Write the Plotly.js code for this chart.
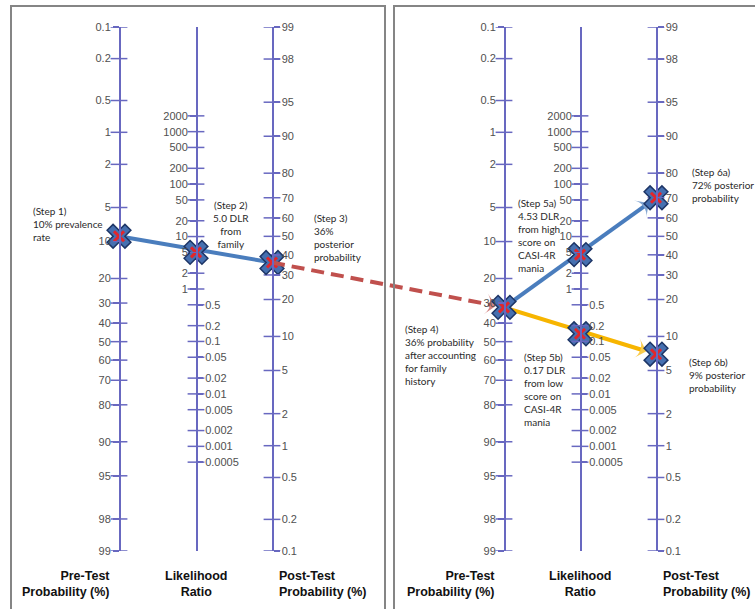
<!DOCTYPE html>
<html><head><meta charset="utf-8">
<script src="https://cdn.plot.ly/plotly-3.0.1.min.js"></script>
<style>html,body{margin:0;padding:0;background:#fff}#chart{width:755px;height:609px}</style>
</head><body><div id="chart"></div>
<script>
// ---------- data ----------
const probTicks = [0.1, 0.2, 0.5, 1, 2, 5, 10, 20, 30, 40, 50, 60, 70, 80, 90, 95, 98, 99];
const probLabels = ['0.1', '0.2', '0.5', '1', '2', '5', '10', '20', '30', '40', '50', '60', '70', '80', '90', '95', '98', '99'];
const lrHighTicks = [2000, 1000, 500, 200, 100, 50, 20, 10, 5, 2, 1];
const lrHighLabels = ['2000', '1000', '500', '200', '100', '50', '20', '10', '5', '2', '1'];
const lrLowTicks = [0.5, 0.2, 0.1, 0.05, 0.02, 0.01, 0.005, 0.002, 0.001, 0.0005];
const lrLowLabels = ['0.5', '0.2', '0.1', '0.05', '0.02', '0.01', '0.005', '0.002', '0.001', '0.0005'];

// [pre-test %, likelihood ratio, post-test %]
const leftPath = [9, 5, 36];
const rightHighPath = [32, 4.53, 70];
const rightLowPath = [32, 0.14, 7];

const stepTexts = [
  '(Step 1)<br>10% prevalence<br>rate',
  '(Step 2)<br>5.0 DLR<br>from<br>family',
  '(Step 3)<br>36%<br>posterior<br>probability',
  '(Step 4)<br>36% probability<br>after accounting<br>for family<br>history',
  '(Step 5a)<br>4.53 DLR<br>from high<br>score on<br>CASI-4R<br>mania',
  '(Step 5b)<br>0.17 DLR<br>from low<br>score on<br>CASI-4R<br>mania',
  '(Step 6a)<br>72% posterior<br>probability',
  '(Step 6b)<br>9% posterior<br>probability'
];
const axisTitles = ['Pre-Test<br>Probability (%)', 'Likelihood<br>Ratio', 'Post-Test<br>Probability (%)'];

// ---------- layout geometry (pixels) ----------
const W = 755, H = 609;
const yTopPx = 27, yBotPx = 551;
const colsLeft = [119, 196, 272];
const colsRight = [504, 580, 656];
const AXC = '#6868c0';
const paperY = py => 1 - py / H;

const odds = p => p / (100 - p);
const lg = Math.log10;
const preRange = [lg(odds(probTicks[probTicks.length - 1])), lg(odds(probTicks[0]))];
const postRange = [preRange[1], preRange[0]];
const span = preRange[0] - preRange[1];
const lrRange = [-span, span];
// map a value from one log axis to the equivalent position on another log axis
function mapAxis(v, fromR, toR) {
  const f = (lg(v) - fromR[0]) / (fromR[1] - fromR[0]);
  return Math.pow(10, toR[0] + f * (toR[1] - toR[0]));
}

const tickFont = {family: 'Liberation Sans, Arial, sans-serif', size: 11, color: '#505050'};
function yax(pos, side, range, vals, text, showline) {
  return {
    type: 'log', range: range, anchor: 'free', position: pos / W, side: side,
    domain: [paperY(yBotPx), paperY(yTopPx)],
    showgrid: false, zeroline: false, showline: showline, linecolor: AXC, linewidth: 1.5,
    tickmode: 'array', tickvals: vals, ticktext: text,
    ticks: 'outside', ticklen: 6, tickwidth: 1.5, tickcolor: AXC,
    tickfont: tickFont, fixedrange: true
  };
}

const layout = {
  width: W, height: H, margin: {l: 0, r: 0, t: 0, b: 0},
  paper_bgcolor: '#fff', plot_bgcolor: 'rgba(0,0,0,0)', showlegend: false,
  xaxis: {range: [0, W], visible: false, fixedrange: true},
  yaxis: yax(colsLeft[0], 'left', preRange, probTicks.map(odds), probLabels, true),
  yaxis2: Object.assign(yax(colsLeft[1], 'left', lrRange, lrHighTicks, lrHighLabels, true), {overlaying: 'y'}),
  yaxis3: Object.assign(yax(colsLeft[1], 'right', lrRange, lrLowTicks, lrLowLabels, false), {overlaying: 'y'}),
  yaxis4: Object.assign(yax(colsLeft[2], 'right', postRange, probTicks.map(odds), probLabels, true), {overlaying: 'y'}),
  yaxis5: Object.assign(yax(colsRight[0], 'left', preRange, probTicks.map(odds), probLabels, true), {overlaying: 'y'}),
  yaxis6: Object.assign(yax(colsRight[1], 'left', lrRange, lrHighTicks, lrHighLabels, true), {overlaying: 'y'}),
  yaxis7: Object.assign(yax(colsRight[1], 'right', lrRange, lrLowTicks, lrLowLabels, false), {overlaying: 'y'}),
  yaxis8: Object.assign(yax(colsRight[2], 'right', postRange, probTicks.map(odds), probLabels, true), {overlaying: 'y'}),
  shapes: [
    {type: 'rect', xref: 'x', yref: 'paper', x0: 11, x1: 385, y0: -0.05, y1: paperY(6), line: {color: '#858585', width: 2}},
    {type: 'rect', xref: 'x', yref: 'paper', x0: 394, x1: 790, y0: -0.05, y1: paperY(6), line: {color: '#858585', width: 2}}
  ],
  annotations: []
};

// axis titles
const titleFont = {family: "'Liberation Sans', Arial, sans-serif", size: 12.5, color: '#111', weight: 'bold'};
[colsLeft, colsRight].forEach(cols => {
  const specs = [[cols[0] - 7, 'right'], [cols[1], 'center'], [cols[2] + 5, 'left']];
  specs.forEach(([x, anc], i) => {
    layout.annotations.push({xref: 'x', yref: 'paper', x: x, y: paperY(583.5), xanchor: anc, yanchor: 'middle',
      align: anc, showarrow: false, text: axisTitles[i], font: titleFont});
  });
});

// step notes
const stepPos = [[31, 224.5, 'left'], [231, 224, 'center'], [312, 237.5, 'left'], [403, 354.5, 'left'],
                 [516, 235.5, 'left'], [522, 389.5, 'left'], [690, 184.5, 'left'], [687, 374.5, 'left']];
const noteFont = {family: "Lato, 'Noto Sans', sans-serif", size: 10, color: '#2a2a2a'};
stepTexts.forEach((t, i) => {
  const [x, y, anc] = stepPos[i];
  layout.annotations.push({xref: 'x', yref: 'paper', x: x, y: paperY(y), xanchor: anc, yanchor: 'middle',
    align: anc, showarrow: false, text: t, font: noteFont});
});

// ---------- traces ----------
const traces = [];
function crossTicks(col, vals, ax) {
  traces.push({type: 'scatter', mode: 'markers', x: vals.map(() => col), y: vals, yaxis: ax, hoverinfo: 'skip',
    marker: {symbol: 'line-ew', size: 12, line: {width: 1.5, color: AXC}}});
}
crossTicks(colsLeft[0], probTicks.map(odds), 'y');
crossTicks(colsLeft[1], lrHighTicks, 'y2');
crossTicks(colsLeft[1], lrLowTicks, 'y3');
crossTicks(colsLeft[2], probTicks.map(odds), 'y4');
crossTicks(colsRight[0], probTicks.map(odds), 'y5');
crossTicks(colsRight[1], lrHighTicks, 'y6');
crossTicks(colsRight[1], lrLowTicks, 'y7');
crossTicks(colsRight[2], probTicks.map(odds), 'y8');

const BLUE = '#4a7dbd', GOLD = '#f7b500', RED = '#c0504d';
function arrowLine(x, y, ax, color, dash, arrow, standoff) {
  const t = {type: 'scatter', x: x, y: y, yaxis: ax, hoverinfo: 'skip', mode: arrow ? 'lines+markers' : 'lines',
    line: {color: color, width: 4, dash: dash || 'solid'}};
  if (arrow) {
    t.marker = {symbol: ['circle', 'arrow-wide'], size: [0, 15], color: color, angleref: 'previous',
      standoff: [0, standoff], line: {width: 0}};
  }
  traces.push(t);
}
// left panel line: pre -> post (plotted on pre axis scale)
arrowLine([colsLeft[0], colsLeft[2]], [odds(leftPath[0]), mapAxis(odds(leftPath[2]), postRange, preRange)], 'y', BLUE, null, false);
// red dashed carry-over: left post -> right pre
arrowLine([colsLeft[2], colsRight[0]], [mapAxis(odds(leftPath[2]), postRange, preRange), odds(rightHighPath[0])], 'y5', RED, '13px,7px', true, 8);
// right: high score
arrowLine([colsRight[0], colsRight[2]], [odds(rightHighPath[0]), mapAxis(odds(rightHighPath[2]), postRange, preRange)], 'y5', BLUE, null, true, 9);
// right: low score
arrowLine([colsRight[0], colsRight[2]], [odds(rightLowPath[0]), mapAxis(odds(rightLowPath[2]), postRange, preRange)], 'y5', GOLD, null, true, 10);

function stepMarker(col, val, ax) {
  traces.push({type: 'scatter', mode: 'markers', x: [col], y: [val], yaxis: ax, hoverinfo: 'skip',
    marker: {symbol: 'x', size: 21, color: '#4670b0', line: {color: '#1d3566', width: 1.5}}});
  traces.push({type: 'scatter', mode: 'markers', x: [col], y: [val], yaxis: ax, hoverinfo: 'skip',
    marker: {symbol: 'x-thin', size: 10, line: {color: '#e3262b', width: 3}}});
}
stepMarker(colsLeft[0], odds(leftPath[0]), 'y');
stepMarker(colsLeft[1], leftPath[1], 'y2');
stepMarker(colsLeft[2], odds(leftPath[2]), 'y4');
stepMarker(colsRight[0], odds(rightHighPath[0]), 'y5');
stepMarker(colsRight[1], rightHighPath[1], 'y6');
stepMarker(colsRight[2], odds(rightHighPath[2]), 'y8');
stepMarker(colsRight[1], rightLowPath[1], 'y6');
stepMarker(colsRight[2], odds(rightLowPath[2]), 'y8');

Plotly.newPlot('chart', traces, layout, {staticPlot: true});
</script>
</body></html>
